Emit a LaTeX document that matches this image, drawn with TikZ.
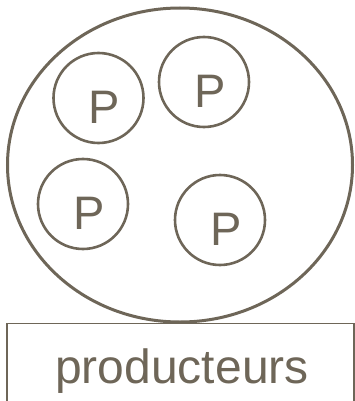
\documentclass[tikz,border=0pt]{standalone}
\usepackage{fontspec}
\setmainfont{Liberation Sans}
\usepackage{tikz}
\usetikzlibrary{calc,shapes.geometric}
\definecolor{INK}{HTML}{6E6658}

\begin{document}
\begin{tikzpicture}[x=1pt,y=-1pt]
\tikzset{pool/.style={draw=INK,line width=3pt,ellipse,minimum width=345,minimum height=314,inner sep=0pt},
 prod/.style={draw=INK,line width=2.6pt,circle,minimum size=90,inner sep=0pt},
 ptxt/.style={INK,font=\fontsize{47}{47}\selectfont,inner sep=0pt},
 box/.style={draw=INK,line width=1.3pt,minimum width=347,minimum height=120,anchor=north,inner sep=0pt},
 lbl/.style={INK,font=\fontsize{48}{48}\selectfont,inner sep=0pt,anchor=base}}
\useasboundingbox (0,0) rectangle (355,401);
\clip (0,0) rectangle (355,401);
\node[pool] (group) at (180,165) {};
\node[box] (name) at (180.5,323) {};
\node[lbl] (nametext) at ($(name.north)+(1.5,60)$) {producteurs};
\foreach \i/\x/\y in {1/98.5/98,2/204/82,3/83/204,4/220/220}{
 \node[prod] (p\i) at (\x,\y) {};
 \node[ptxt] (t\i) at ($(p\i)+(6,9)$) {P};
}
\end{tikzpicture}
\end{document}
